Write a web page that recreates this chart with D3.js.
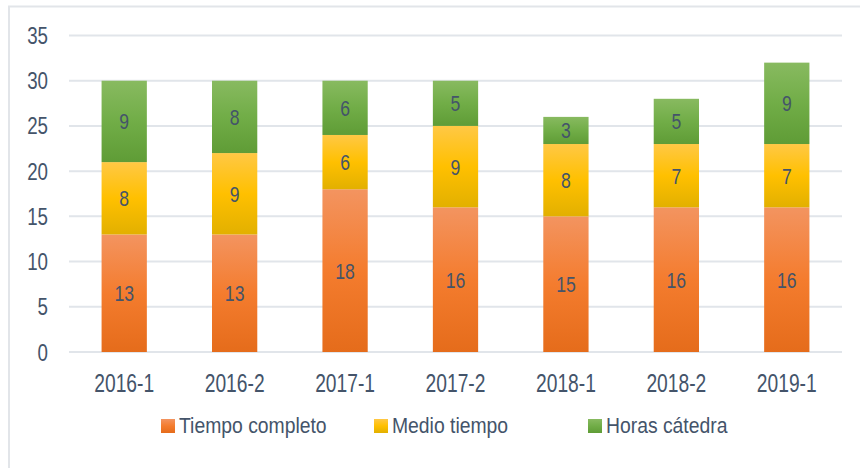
<!DOCTYPE html>
<html>
<head>
<meta charset="utf-8">
<script src="https://cdn.jsdelivr.net/npm/d3@7"></script>
<style>
  body { margin: 0; background: #fff; }
  text { font-family: "Liberation Sans", Arial, sans-serif; fill: #44546a; }
</style>
</head>
<body>
<svg id="chart" width="860" height="468"></svg>
<script>
var categories = ["2016-1", "2016-2", "2017-1", "2017-2", "2018-1", "2018-2", "2019-1"];
var tiempoCompleto = [13, 13, 18, 16, 15, 16, 16];
var medioTiempo = [8, 9, 6, 9, 8, 7, 7];
var horasCatedra = [9, 8, 6, 5, 3, 5, 9];
var seriesNames = ["Tiempo completo", "Medio tiempo", "Horas cátedra"];
var yTicks = [0, 5, 10, 15, 20, 25, 30, 35];

var W = 860, H = 468;
var X0 = 69, X1 = 842, Y0 = 352, Y1 = 35.5;

// gradient stops per series (top, middle, bottom)
var grads = [
  ["#f39460", "#f47c2e", "#e56c1b"],
  ["#ffc845", "#ffc000", "#e2b000"],
  ["#88ba60", "#71ad47", "#5f9c36"]
];

var svg = d3.select("#chart");

var defs = svg.append("defs");
grads.forEach(function (g, i) {
  var lg = defs.append("linearGradient")
    .attr("id", "g" + i)
    .attr("x1", 0).attr("y1", 0).attr("x2", 0).attr("y2", 1);
  lg.append("stop").attr("offset", "0%").attr("stop-color", g[0]);
  lg.append("stop").attr("offset", "50%").attr("stop-color", g[1]);
  lg.append("stop").attr("offset", "100%").attr("stop-color", g[2]);
});

svg.append("rect")
  .attr("width", W).attr("height", H).attr("fill", "#fff");

// chart border (only top and left visible)
svg.append("rect")
  .attr("x", 9).attr("y", 6.5)
  .attr("width", W + 20).attr("height", H + 20)
  .attr("fill", "none")
  .attr("stroke", "#e2e5e9")
  .attr("stroke-width", 2);

var x = d3.scaleBand().domain(categories).range([X0, X1]).paddingInner(0.59).paddingOuter(0.295);
var y = d3.scaleLinear().domain([0, 35]).range([Y0, Y1]);

// gridlines
svg.append("g")
  .selectAll("line")
  .data(yTicks)
  .enter().append("line")
  .attr("x1", X0).attr("x2", X1)
  .attr("y1", function (d) { return y(d); })
  .attr("y2", function (d) { return y(d); })
  .attr("stroke", "#e1e5ea")
  .attr("stroke-width", 2);

// y tick labels
svg.append("g")
  .selectAll("text")
  .data(yTicks)
  .enter().append("text")
  .attr("transform", function (d) { return "translate(48," + (y(d) + 8.5) + ") scale(0.78,1)"; })
  .attr("text-anchor", "end")
  .style("font-size", "24px")
  .text(function (d) { return d; });

// stacked data
var rows = categories.map(function (c, i) {
  return { cat: c, s0: tiempoCompleto[i], s1: medioTiempo[i], s2: horasCatedra[i] };
});
var stack = d3.stack().keys(["s0", "s1", "s2"])(rows);

var layer = svg.append("g")
  .selectAll("g.layer")
  .data(stack)
  .enter().append("g")
  .attr("class", "layer")
  .attr("fill", function (d, i) { return "url(#g" + i + ")"; });

layer.selectAll("rect")
  .data(function (d) { return d; })
  .enter().append("rect")
  .attr("x", function (d) { return x(d.data.cat); })
  .attr("width", x.bandwidth())
  .attr("y", function (d) { return y(d[1]); })
  .attr("height", function (d) { return y(d[0]) - y(d[1]); });

layer.selectAll("text")
  .data(function (d) { return d; })
  .enter().append("text")
  .attr("transform", function (d) {
    var cx = x(d.data.cat) + x.bandwidth() / 2;
    var cy = (y(d[0]) + y(d[1])) / 2 + 8;
    return "translate(" + cx + "," + cy + ") scale(0.8,1)";
  })
  .attr("text-anchor", "middle")
  .style("font-size", "22px")
  .text(function (d) { return d[1] - d[0]; });

// x labels
svg.append("g")
  .selectAll("text")
  .data(categories)
  .enter().append("text")
  .attr("transform", function (d) { return "translate(" + (x(d) + x.bandwidth() / 2) + ",392) scale(0.74,1)"; })
  .attr("text-anchor", "middle")
  .style("font-size", "26px")
  .text(function (d) { return d; });

// legend
var legendX = [161, 374, 588];
var leg = svg.append("g")
  .selectAll("g")
  .data(seriesNames)
  .enter().append("g")
  .attr("transform", function (d, i) { return "translate(" + legendX[i] + ",419)"; });

leg.append("rect")
  .attr("width", 14).attr("height", 14)
  .attr("fill", function (d, i) { return "url(#g" + i + ")"; });

leg.append("text")
  .attr("transform", "translate(18,14) scale(0.9,1)")
  .style("font-size", "21.5px")
  .text(function (d) { return d; });
</script>
</body>
</html>
